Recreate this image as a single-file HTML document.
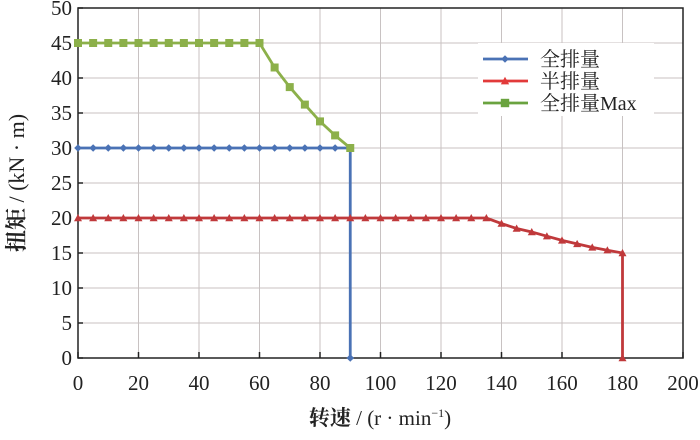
<!DOCTYPE html>
<html><head><meta charset="utf-8"><style>
body{margin:0;background:#fff;width:700px;height:435px;overflow:hidden}
svg text{font-family:"Liberation Serif","Noto Serif CJK SC",serif;fill:#222}
</style></head><body>
<svg id="chart" width="700" height="435" xmlns="http://www.w3.org/2000/svg"></svg>
<script>
const xTicks=[0,20,40,60,80,100,120,140,160,180,200];
const yTicks=[0,5,10,15,20,25,30,35,40,45,50];
const fullX=[0,5,10,15,20,25,30,35,40,45,50,55,60,65,70,75,80,85,90,90];
const fullY=[30,30,30,30,30,30,30,30,30,30,30,30,30,30,30,30,30,30,30,0];
const halfX=[0,5,10,15,20,25,30,35,40,45,50,55,60,65,70,75,80,85,90,95,100,105,110,115,120,125,130,135,140,145,150,155,160,165,170,175,180,180];
const halfY=[20,20,20,20,20,20,20,20,20,20,20,20,20,20,20,20,20,20,20,20,20,20,20,20,20,20,20,20,19.2,18.5,18,17.4,16.8,16.3,15.8,15.4,15,0];
const maxX=[0,5,10,15,20,25,30,35,40,45,50,55,60,65,70,75,80,85,90];
const maxY=[45,45,45,45,45,45,45,45,45,45,45,45,45,41.5,38.7,36.2,33.8,31.8,30];
const L=78,R=683,T=8,B=358;
const sx=v=>L+(v-0)/200*(R-L);
const sy=v=>B-v/50*(B-T);
const svg=document.getElementById('chart');
const NS='http://www.w3.org/2000/svg';
function mk(tag,attrs,parent){const e=document.createElementNS(NS,tag);for(const k in attrs)e.setAttribute(k,attrs[k]);(parent||svg).appendChild(e);return e;}
const grid=mk('g',{});


xTicks.forEach(v=>{mk('line',{x1:sx(v),x2:sx(v),y1:T,y2:B,stroke:'#c8c2c2','stroke-width':1},grid);
 mk('line',{x1:sx(v),x2:sx(v),y1:B,y2:B-6,stroke:'#222','stroke-width':1.5},grid);
 const t=mk('text',{x:sx(v),y:B+32,'text-anchor':'middle','font-size':21});t.textContent=v;
 
 });
yTicks.forEach(v=>{mk('line',{x1:L,x2:R,y1:sy(v),y2:sy(v),stroke:'#c8c2c2','stroke-width':1},grid);
 mk('line',{x1:L,x2:L+5,y1:sy(v),y2:sy(v),stroke:'#222','stroke-width':1.5},grid);
 const t=mk('text',{x:L-6,y:sy(v)+7,'text-anchor':'end','font-size':21});t.textContent=v;
 
 });
const frame=mk('rect',{x:L,y:T,width:R-L,height:B-T,fill:'none',stroke:'#222','stroke-width':1.5});


function marker(g,type,x,y,c,s){
 if(type==='d')mk('polygon',{points:`${x},${y-s} ${x+s},${y} ${x},${y+s} ${x-s},${y}`,fill:c},g);
 else if(type==='t')mk('polygon',{points:`${x},${y-s} ${x+s},${y+s*0.8} ${x-s},${y+s*0.8}`,fill:c},g);
 else mk('rect',{x:x-s,y:y-s,width:2*s,height:2*s,fill:c},g);}
function series(xs,ys,c,type,s,name){
 const g=mk('g',{});
 
 
 mk('polyline',{points:xs.map((x,i)=>sx(x)+','+sy(ys[i])).join(' '),fill:'none',stroke:c,'stroke-width':2.8},g);
 xs.forEach((x,i)=>marker(g,type,sx(x),sy(ys[i]),c,s));}
series(fullX,fullY,'#4a72b5','d',3.8,'series-full');
series(halfX,halfY,'#c0393b','t',4,'series-half');
series(maxX,maxY,'#8cb04a','s',4,'series-full-max');
const lg=mk('g',{});


mk('rect',{x:478,y:43,width:176,height:73,fill:'#fff'},lg);
[['全排量','#4a72b5','d',3.8],['半排量','#e23a3a','t',4.2],['全排量Max','#6aa33f','s',4.2]].forEach((d,i)=>{
 const y=59+i*22;
 const e=mk('g',{},lg);
 
 
 mk('line',{x1:483,x2:528,y1:y,y2:y,stroke:d[1],'stroke-width':2.8},e);
 marker(e,d[2],505,y,d[1],d[3]);
 const t=mk('text',{x:540,y:y+7,'font-size':20},e);t.textContent=d[0];});
const xt=mk('text',{x:380,y:425,'text-anchor':'middle','font-size':21});


xt.innerHTML='<tspan font-weight="bold">转速</tspan> / (r · min<tspan dy="-8" font-size="12">−1</tspan><tspan dy="8">)</tspan>';
const yt=mk('text',{x:0,y:0,'text-anchor':'middle','font-size':22,transform:'translate(24,183) rotate(-90)'});


yt.innerHTML='<tspan font-weight="bold">扭矩</tspan> / (kN · m)';
</script>
</body></html>
